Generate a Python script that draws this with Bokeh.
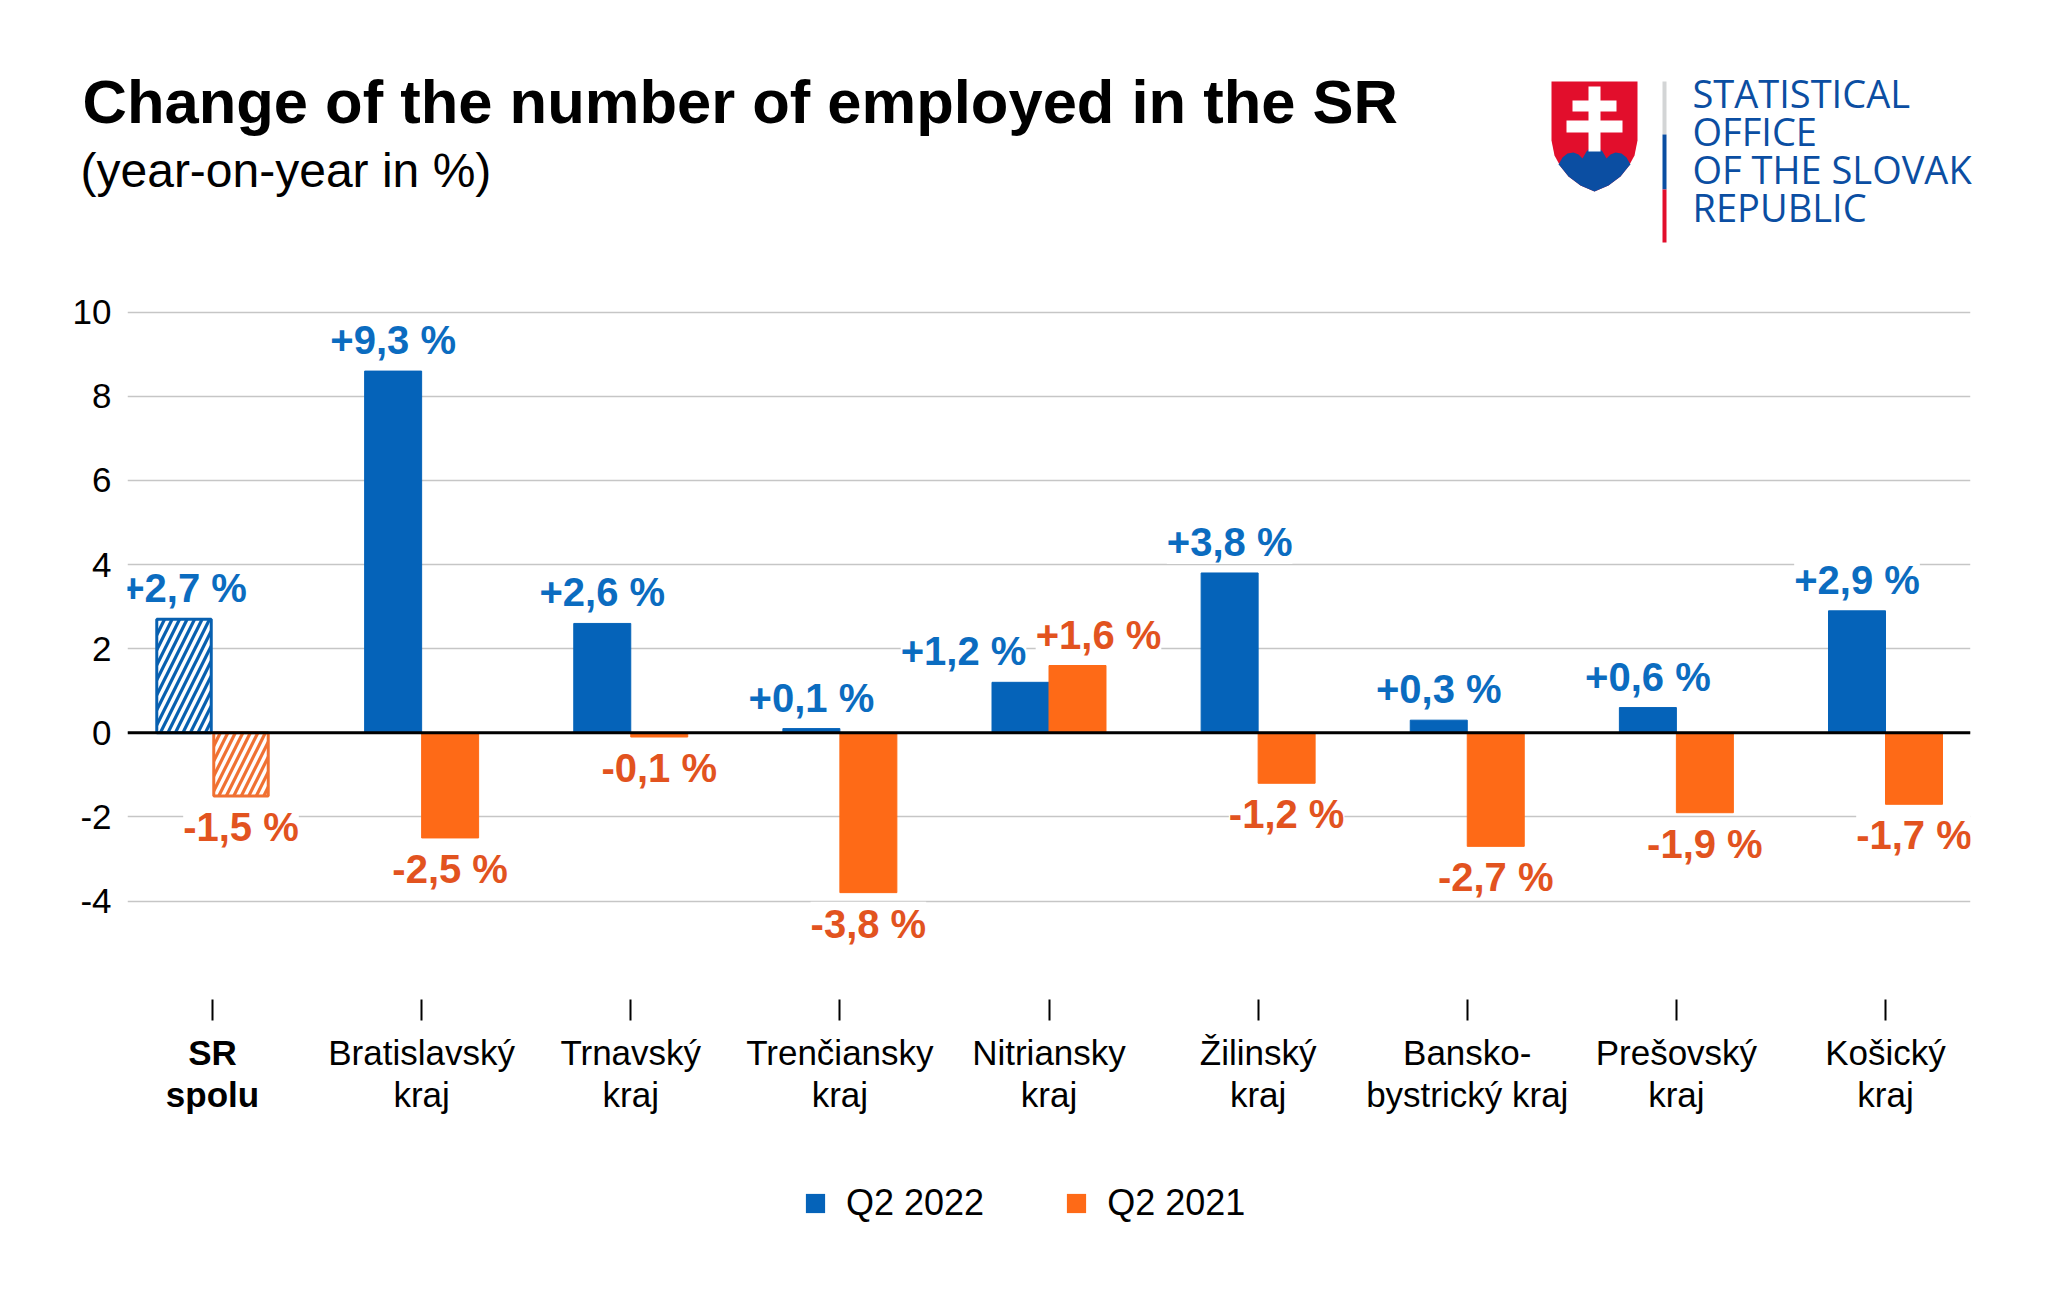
from bokeh.plotting import figure
from bokeh.layouts import column
from bokeh.models import (ColumnDataSource, Range1d, FixedTicker, LabelSet, Label, Span,
                          Legend, LegendItem, CDSView, IndexFilter)
from bokeh.core.properties import value
from bokeh.transform import dodge
from bokeh.embed import file_html
from bokeh.resources import INLINE

# ---------------- data ----------------
categories = ["SR\nspolu", "Bratislavský\nkraj", "Trnavský\nkraj", "Trenčiansky\nkraj",
              "Nitriansky\nkraj", "Žilinský\nkraj", "Bansko-\nbystrický kraj",
              "Prešovský\nkraj", "Košický\nkraj"]
q2_2022 = [2.7, 8.6, 2.6, 0.1, 1.2, 3.8, 0.3, 0.6, 2.9]
q2_2021 = [-1.5, -2.5, -0.1, -3.8, 1.6, -1.2, -2.7, -1.9, -1.7]
labels_2022 = ["+2,7 %", "+9,3 %", "+2,6 %", "+0,1 %", "+1,2 %", "+3,8 %", "+0,3 %", "+0,6 %", "+2,9 %"]
labels_2021 = ["-1,5 %", "-2,5 %", "-0,1 %", "-3,8 %", "+1,6 %", "-1,2 %", "-2,7 %", "-1,9 %", "-1,7 %"]
series_names = ["Q2 2022", "Q2 2021"]
y_ticks = [-4, -2, 0, 2, 4, 6, 8, 10]
title_text = "Change of the number of employed in the SR"
subtitle_text = "(year-on-year in %)"
logo_lines = ["STATISTICAL", "OFFICE", "OF THE SLOVAK", "REPUBLIC"]

# ---------------- styling ----------------
BLUE = "#0563b9"
ORANGE = "#fe6a17"
BLUE_HATCH = "#0860b0"
ORANGE_HATCH = "#f07132"
BLUE_LAB = "#0b6cc0"
ORANGE_LAB = "#e2531f"
LOGO_BLUE = "#0b4ea2"
LOGO_RED = "#e20e2c"
FONT = "Liberation Sans"
BAR_W = 0.2725
OFF = BAR_W / 2
dx22 = [0, 0, 0, 0, -57, 0, 0, 0, 0]   # label nudges (px)
dx21 = [0, 0, 0, 0, 21, 0, 0, 0, 0]

W = 2032
FL, FR = 127, 1970          # frame left/right (px)
X0, SX = 212.0, 209.125     # first category centre, category spacing (px)
Y0, SY = 732.3, 42.06       # zero line, px per unit
TOP_H = 256                 # header figure height
FRAME_BOTTOM = 999
AX_B = 30                   # space for tick marks
BOT_H = 1287 - TOP_H - (FRAME_BOTTOM - TOP_H) - AX_B

def dyv(py):
    return (Y0 - py) / SY

xr = Range1d((FL - X0) / SX, (FR - X0) / SX)

# ---------------- header (title + logo) ----------------
top = figure(frame_width=W, frame_height=TOP_H, output_backend="svg", toolbar_location=None,
             x_range=Range1d(0, W), y_range=Range1d(TOP_H, 0),
             x_axis_type=None, y_axis_type=None, min_border=0)
top.frame_align = False
top.outline_line_color = None
top.grid.visible = False
top.add_layout(Label(x=82, y=101, text=title_text, text_align="left", text_baseline="middle",
                     text_font=FONT, text_font_style="bold", text_font_size="61.5px",
                     text_color="black"))
top.add_layout(Label(x=80, y=170, text=subtitle_text, text_align="left", text_baseline="middle",
                     text_font=FONT, text_font_size="48px", text_color="black"))
shield = [(1551, 81), (1551, 140), (1554, 155), (1560, 166), (1568, 176), (1580, 185),
          (1594, 191), (1608, 185), (1620, 176), (1628, 166), (1634, 155), (1637, 140), (1637, 81)]
top.patch([a for a, b in shield], [b for a, b in shield], fill_color=LOGO_RED, line_color=None)
mount = [(1558, 164), (1562, 157), (1567, 153), (1573, 152), (1578, 154), (1582, 158),
         (1586, 151), (1590, 147), (1594, 146), (1598, 147), (1602, 151), (1606, 158),
         (1610, 154), (1615, 152), (1621, 153), (1626, 157), (1630, 164),
         (1628, 166), (1620, 176), (1608, 185), (1594, 191), (1580, 185), (1568, 176), (1560, 166)]
top.patch([a for a, b in mount], [b for a, b in mount], fill_color=LOGO_BLUE, line_color=None)
cross = [(1588, 1600, 86, 151), (1572, 1616, 100, 111), (1566, 1622, 120, 132)]
top.quad(left=[c[0] for c in cross], right=[c[1] for c in cross],
         top=[c[2] for c in cross], bottom=[c[3] for c in cross],
         fill_color="white", line_color=None)
vbar_seg = [(81, 134, "#d3d5d6"), (134, 189, LOGO_BLUE), (189, 242, LOGO_RED)]
top.quad(left=[1662] * 3, right=[1666] * 3, top=[b[0] for b in vbar_seg],
         bottom=[b[1] for b in vbar_seg], fill_color=[b[2] for b in vbar_seg], line_color=None)
for i, t in enumerate(logo_lines):
    top.add_layout(Label(x=1692, y=92 + 38 * i, text=t, text_align="left",
                         text_baseline="middle", text_font="Open Sans",
                         text_font_size="38px", text_color=LOGO_BLUE))

# ---------------- chart ----------------
p = figure(frame_width=FR - FL, frame_height=FRAME_BOTTOM - TOP_H, output_backend="svg",
           toolbar_location=None, x_range=xr, y_range=Range1d(dyv(FRAME_BOTTOM), dyv(TOP_H)),
           min_border_left=FL, min_border_right=W - FR, min_border_top=0, min_border_bottom=AX_B)
p.outline_line_color = None

src = ColumnDataSource(dict(
    x=list(range(len(categories))),
    q22=q2_2022, q21=q2_2021,
    lab22=labels_2022, lab21=labels_2021,
    dx22=dx22, dx21=dx21,
    dy22=[31 if v >= 0 else -31 for v in q2_2022],
    dy21=[31 if v >= 0 else -31 for v in q2_2021],
))
v_sr = CDSView(filter=IndexFilter([0]))
v_reg = CDSView(filter=IndexFilter(list(range(1, len(categories)))))

p.vbar(x=dodge("x", -OFF, range=p.x_range), top="q22", bottom=0, width=BAR_W,
       source=src, view=v_reg, fill_color=BLUE, line_color=BLUE, line_width=1)
p.vbar(x=dodge("x", OFF, range=p.x_range), top="q21", bottom=0, width=BAR_W,
       source=src, view=v_reg, fill_color=ORANGE, line_color=ORANGE, line_width=1)
p.vbar(x=dodge("x", -OFF, range=p.x_range), top="q22", bottom=0, width=BAR_W - 0.012,
       source=src, view=v_sr, fill_color=BLUE_HATCH, line_color=BLUE_HATCH, line_width=3,
       hatch_pattern="/", hatch_color="white", hatch_weight=3.5, hatch_scale=15)
p.vbar(x=dodge("x", OFF, range=p.x_range), top="q21", bottom=0, width=BAR_W - 0.012,
       source=src, view=v_sr, fill_color=ORANGE_HATCH, line_color=ORANGE_HATCH, line_width=3,
       hatch_pattern="/", hatch_color="white", hatch_weight=3.5, hatch_scale=15)

p.add_layout(Span(location=0, dimension="width", line_color="black", line_width=3))

p.add_layout(LabelSet(x=dodge("x", -OFF, range=p.x_range), y="q22", text="lab22",
                      x_offset="dx22", y_offset="dy22", source=src,
                      text_align="center", text_baseline="middle",
                      text_font=value(FONT), text_font_style="bold", text_font_size="40px",
                      text_color=BLUE_LAB, background_fill_color="white"))
p.add_layout(LabelSet(x=dodge("x", OFF, range=p.x_range), y="q21", text="lab21",
                      x_offset="dx21", y_offset="dy21", source=src,
                      text_align="center", text_baseline="middle",
                      text_font=value(FONT), text_font_style="bold", text_font_size="40px",
                      text_color=ORANGE_LAB, background_fill_color="white"))

p.yaxis.ticker = FixedTicker(ticks=y_ticks)
p.yaxis.major_label_overrides = {t: str(t) for t in y_ticks}
p.yaxis.axis_line_color = None
p.yaxis.major_tick_line_color = None
p.yaxis.minor_tick_line_color = None
p.yaxis.major_label_standoff = 10
p.yaxis.major_label_text_font = FONT
p.yaxis.major_label_text_font_size = "35px"
p.yaxis.major_label_text_color = "black"

p.xaxis.ticker = FixedTicker(ticks=list(range(len(categories))))
p.xaxis.major_label_overrides = {i: "" for i in range(len(categories))}
p.xaxis.major_label_text_font_size = "1px"
p.xaxis.major_label_standoff = 0
p.xaxis.axis_line_color = None
p.xaxis.minor_tick_line_color = None
p.xaxis.major_tick_in = 0
p.xaxis.major_tick_out = 21
p.xaxis.major_tick_line_color = "black"
p.xaxis.major_tick_line_width = 2

p.xgrid.grid_line_color = None
p.ygrid.grid_line_color = "#c6c6c6"
p.ygrid.grid_line_width = 1.5

# ---------------- category labels + legend ----------------
bot = figure(frame_width=FR - FL, frame_height=BOT_H, output_backend="svg", toolbar_location=None,
             x_range=xr, y_range=Range1d(BOT_H, 0), x_axis_type=None, y_axis_type=None,
             min_border_left=FL, min_border_right=W - FR, min_border_top=0, min_border_bottom=0)
bot.outline_line_color = None
bot.grid.visible = False
csrc = ColumnDataSource(dict(x=list(range(len(categories))), name=categories))
LAB_Y = 1073 - (FRAME_BOTTOM + AX_B)
bot.text(x="x", y=LAB_Y, text="name", source=csrc, view=CDSView(filter=IndexFilter([0])),
         text_align="center", text_baseline="middle", text_font=value(FONT),
         text_font_style="bold", text_font_size="35px", text_color="black", text_line_height=1.1)
bot.text(x="x", y=LAB_Y, text="name", source=csrc,
         view=CDSView(filter=IndexFilter(list(range(1, len(categories))))),
         text_align="center", text_baseline="middle", text_font=value(FONT),
         text_font_size="35px", text_color="black", text_line_height=1.1)

# legend swatches: zero-height bars so only the legend glyphs show
dummy = ColumnDataSource(dict(x=[0], top=[0]))
lb = bot.vbar(x="x", top="top", bottom="top", width=0.01, source=dummy,
              fill_color=BLUE, line_color=None)
lo = bot.vbar(x="x", top="top", bottom="top", width=0.01, source=dummy,
              fill_color=ORANGE, line_color=None)
legend = Legend(items=[LegendItem(label=series_names[0], renderers=[lb]),
                       LegendItem(label=series_names[1], renderers=[lo])],
                location=(803 - FL, 1287 - 1224), orientation="horizontal",
                glyph_width=24, glyph_height=24, label_standoff=19, spacing=80,
                padding=0, margin=0, border_line_color=None, background_fill_alpha=0,
                label_text_font=FONT, label_text_font_size="36px",
                label_text_color="black", label_text_baseline="middle")
bot.add_layout(legend)

layout = column(top, p, bot, spacing=0)
open("out.html", "w").write(file_html(layout, INLINE))
